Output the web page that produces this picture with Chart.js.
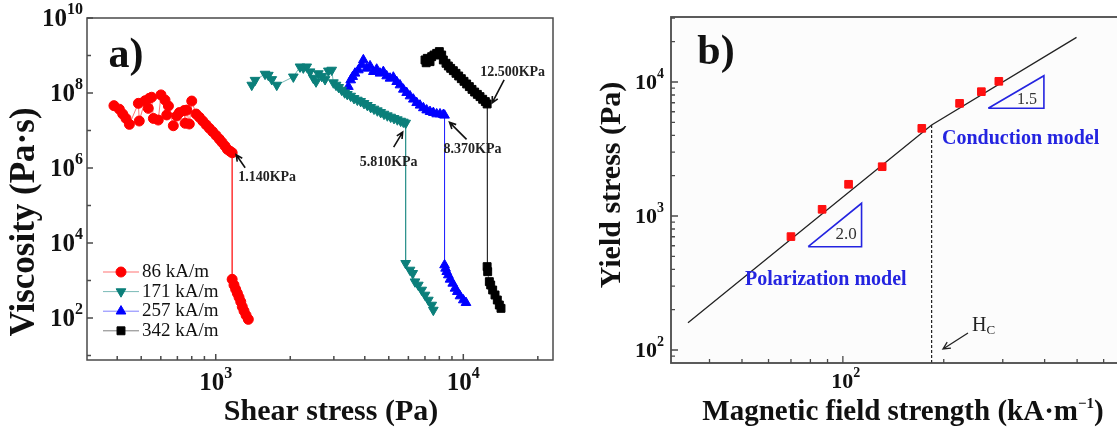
<!DOCTYPE html>
<html>
<head>
<meta charset="utf-8">
<script src="https://cdn.jsdelivr.net/npm/chart.js@4.4.1/dist/chart.umd.min.js"></script>
<style>
  html, body { margin: 0; padding: 0; background: #fff; overflow: hidden; }
  body { width: 1117px; height: 430px; position: relative; }
  canvas { position: absolute; top: 0; }
  #chartA { left: 0; }
  #chartB { left: 560px; }
</style>
</head>
<body>
<canvas id="chartA" width="560" height="430"></canvas>
<canvas id="chartB" width="640" height="430"></canvas>
<script>
'use strict';

// ---- panel a) viscosity vs shear stress ----
const fieldLabels = ['86 kA/m', '171 kA/m', '257 kA/m', '342 kA/m'];
const dropLabels = ['1.140KPa', '5.810KPa', '8.370KPa', '12.500KPa'];

const stress86 = [388, 408, 421, 434, 448, 487, 491, 518, 534, 539, 551, 560, 586, 601, 624, 634, 644, 674, 696, 713,
  745, 752, 764, 782, 800, 833, 859, 886, 914, 942, 972, 1003, 1034, 1060, 1090, 1114, 1142, 1165,
  1165, 1185, 1204, 1223, 1242, 1262, 1280, 1301, 1326, 1354];
const visc86 = [4.6e7, 3.7e7, 2.75e7, 2.1e7, 1.46e7, 5.3e7, 1.79e7, 6.2e7, 3.9e7, 7.2e7, 7.7e7, 2.1e7, 1.9e7, 8.9e7, 6.5e7, 2.6e7, 4.5e7, 1.34e7, 2.44e7, 3.0e7,
  3.4e7, 1.56e7, 3.5e7, 1.49e7, 6.1e7, 2.75e7, 2.25e7, 1.79e7, 1.43e7, 1.15e7, 9.3e6, 7.4e6, 5.9e6, 4.85e6, 3.86e6, 3.15e6, 2.8e6, 2.55e6,
  1075, 759, 582, 456, 356, 272, 200, 154, 118, 92];

const stress171 = [1398, 1441, 1582, 1631, 1684, 1764, 2058, 2190, 2258, 2331, 2404, 2479, 2542, 2597, 2680, 2764, 2850, 2941,
  2987, 3061, 3138, 3227, 3318, 3401, 3509, 3619, 3733, 3850, 3972, 4097, 4226, 4358, 4496, 4638, 4783, 4934, 5090, 5250, 5415, 5585, 5726, 5850,
  5850, 6091, 6247, 6381, 6581, 6792, 7004, 7224, 7455, 7566];
const visc171 = [1.63e8, 2.2e8, 3.2e8, 3.0e8, 2.3e8, 1.63e8, 2.7e8, 5.0e8, 4.7e8, 5.0e8, 3.7e8, 2.5e8, 2.0e8, 3.3e8, 2.8e8, 2.3e8, 3.9e8, 4.1e8,
  1.89e8, 1.63e8, 1.42e8, 1.2e8, 1.02e8, 9.2e7, 8.3e7, 7.2e7, 6.5e7, 6.0e7, 5.3e7, 4.7e7, 4.15e7, 3.75e7, 3.38e7, 3.05e7, 2.75e7, 2.49e7, 2.29e7, 2.11e7, 1.95e7, 1.79e7, 1.69e7, 1.58e7,
  2875, 1905, 1556, 929, 759, 558, 411, 302, 222, 163];

const stress257 = [3434, 3509, 3575, 3652, 3768, 3886, 3947, 4071, 4200, 4332, 4468, 4609, 4753, 4903, 5058, 5216, 5381, 5549, 5725, 5904,
  6091, 6283, 6480, 6685, 6896, 7113, 7337, 7568, 7807, 8053, 8306, 8400,
  8400, 8480, 8570, 8700, 8838, 9063, 9258, 9458, 9699, 10000, 10253];
const visc257 = [1.48e8, 2.22e8, 2.73e8, 3.35e8, 4.1e8, 5.58e8, 7.6e8, 4.55e8, 5.25e8, 3.7e8, 4.28e8, 3.35e8, 3.7e8, 2.84e8, 2.46e8, 2.62e8, 2.0e8, 1.63e8, 1.25e8, 1.02e8,
  8.3e7, 6.8e7, 5.5e7, 4.7e7, 4.0e7, 3.5e7, 3.18e7, 2.99e7, 2.75e7, 2.75e7, 2.64e7, 2.54e7,
  2590, 2110, 1720, 1402, 1074, 840, 618, 504, 386, 302, 256];

const stress342 = [7004, 7080, 7154, 7337, 7451, 7613, 7807, 8002, 8178, 8306, 8515, 8701, 8892, 9114, 9343, 9578, 9818, 10064, 10318, 10577,
  10842, 11114, 11394, 11679, 11973, 12274, 12480,
  12480, 12545, 12740, 12900, 13140, 13430, 13720, 13980, 14200];
const visc342 = [7.6e8, 6.4e8, 8.4e8, 6.85e8, 9.3e8, 1.03e9, 1.14e9, 1.27e9, 1.03e9, 7.6e8, 6.2e8, 5.25e8, 4.55e8, 3.94e8, 3.35e8, 2.84e8, 2.41e8, 2.05e8, 1.74e8, 1.48e8,
  1.25e8, 1.06e8, 9.2e7, 8.0e7, 6.8e7, 5.9e7, 5.1e7,
  2340, 1720, 931, 759, 558, 411, 302, 222, 181];

const stressMajor = [1e3, 1e4];
const stressMinor = [400, 500, 600, 700, 800, 900, 2000, 3000, 4000, 5000, 6000, 7000, 8000, 9000, 20000];
const viscMajor = [1e2, 1e4, 1e6, 1e8, 1e10];
const viscMinor = [1e1, 1e3, 1e5, 1e7, 1e9];

// ---- panel b) yield stress vs field ----
const fieldH = [70, 86.7, 104, 131, 172, 223, 259, 292];
const yieldStress = [702, 1122, 1725, 2333, 4510, 6930, 8470, 10120];
const fitH = [34.5, 184, 498];
const fitStress = [160, 4780, 21550];
const criticalH = [184, 184];
const criticalStress = [4780, 80];
const tri20H = [78.8, 113.7, 113.7, 78.8];
const tri20Stress = [590, 1244, 590, 590];
const tri15H = [271.5, 398, 398, 271.5];
const tri15Stress = [6365, 11140, 6365, 6365];

const fieldMajor = [100];
const fieldMinor = [40, 50, 60, 70, 80, 90, 200, 300, 400, 500, 600];
const yieldMajor = [1e2, 1e3, 1e4];
const yieldMinor = [90, 200, 300, 400, 500, 600, 700, 800, 900, 2000, 3000, 4000, 5000, 6000, 7000, 8000, 9000, 20000, 30000];

const SERIF = '"Liberation Serif", "Times New Roman", Times, serif';
const pts = (xs, ys) => xs.map((x, i) => ({ x, y: ys[i] }));

function textRun(ctx, parts, x, y, align) {
  let total = 0;
  parts.forEach(p => { ctx.font = p.font; p.w = ctx.measureText(p.text).width; total += p.w; });
  let x0 = align === 'right' ? x - total : align === 'left' ? x : x - total / 2;
  ctx.textAlign = 'left';
  ctx.textBaseline = 'middle';
  parts.forEach(p => { ctx.font = p.font; ctx.fillText(p.text, x0, y + (p.dy || 0)); x0 += p.w; });
}

function powLabel(ctx, exp, x, y, align, size) {
  textRun(ctx, [
    { text: '10', font: `bold ${size}px ${SERIF}` },
    { text: exp, font: `bold ${Math.round(size * 0.62)}px ${SERIF}`, dy: -size * 0.4 },
  ], x, y, align);
}

function ticks(chart, axis, values, len) {
  const { ctx, chartArea: a, scales } = chart;
  ctx.beginPath();
  values.forEach(v => {
    if (axis === 'x') {
      const p = scales.x.getPixelForValue(v);
      if (p < a.left || p > a.right) return;
      ctx.moveTo(p, a.bottom); ctx.lineTo(p, a.bottom - len);
    } else {
      const p = scales.y.getPixelForValue(v);
      if (p < a.top || p > a.bottom) return;
      ctx.moveTo(a.left, p); ctx.lineTo(a.left + len, p);
    }
  });
  ctx.stroke();
}

function arrow(ctx, x1, y1, x2, y2, head) {
  const ang = Math.atan2(y2 - y1, x2 - x1);
  ctx.beginPath();
  ctx.moveTo(x1, y1); ctx.lineTo(x2, y2);
  ctx.moveTo(x2 - head * Math.cos(ang - 0.45), y2 - head * Math.sin(ang - 0.45));
  ctx.lineTo(x2, y2);
  ctx.lineTo(x2 - head * Math.cos(ang + 0.45), y2 - head * Math.sin(ang + 0.45));
  ctx.stroke();
}

function logScale(min, max) {
  return { type: 'logarithmic', min, max, display: false };
}

// ---------- chart a ----------
const seriesA = [
  { xs: stress86, ys: visc86, color: '#ff0000', line: 'rgba(255,0,0,0.55)', style: 'circle', rot: 0, r: 5 },
  { xs: stress171, ys: visc171, color: '#0b7f7a', line: 'rgba(11,127,122,0.55)', style: 'triangle', rot: 180, r: 5.6 },
  { xs: stress257, ys: visc257, color: '#0000ff', line: 'rgba(0,0,255,0.5)', style: 'triangle', rot: 0, r: 5.6 },
  { xs: stress342, ys: visc342, color: '#000000', line: 'rgba(0,0,0,0.5)', style: 'rect', rot: 0, r: 5.6 },
];

// anchor index = last point before the drop; offsets in px for arrow tail/tip and text
const dropNotes = [
  { idx: 37, tip: [4, 2], tail: [13, 15], text: [6, 25] },
  { idx: 41, tip: [-3, 9], tail: [-12, 24], text: [-46, 39] },
  { idx: 31, tip: [5, 7], tail: [22, 24], text: [-1, 34] },
  { idx: 26, tip: [5, -1], tail: [17, -24], text: [-7, -32] },
];

const panelA = {
  id: 'panelA',
  afterDatasetsDraw(chart) {
    const { ctx, chartArea: a, scales } = chart;
    ctx.save();
    ctx.strokeStyle = '#4a4a4a';
    ctx.lineWidth = 1.5;
    ctx.strokeRect(a.left, a.top, a.right - a.left, a.bottom - a.top);
    ticks(chart, 'x', stressMajor, 6);
    ticks(chart, 'x', stressMinor, 4);
    ticks(chart, 'y', viscMajor, 6);
    ticks(chart, 'y', viscMinor, 4);

    ctx.fillStyle = '#111';
    stressMajor.forEach(v => powLabel(ctx, String(Math.log10(v)), scales.x.getPixelForValue(v), 384, 'center', 25));
    viscMajor.forEach(v => powLabel(ctx, String(Math.log10(v)), 83, scales.y.getPixelForValue(v) + 2, 'right', 25));

    ctx.font = `bold 30px ${SERIF}`;
    ctx.textAlign = 'center'; ctx.textBaseline = 'middle';
    ctx.fillText('Shear stress (Pa)', 331, 412);
    ctx.save();
    ctx.translate(25, 222); ctx.rotate(-Math.PI / 2);
    ctx.font = `bold 35px ${SERIF}`;
    ctx.fillText('Viscosity (Pa\u00b7s)', 0, 0);
    ctx.restore();

    ctx.font = `bold 42px ${SERIF}`;
    ctx.fillText('a)', 126, 56);

    // drop annotations
    ctx.lineWidth = 1.6;
    ctx.strokeStyle = '#111';
    dropNotes.forEach((n, i) => {
      const s = seriesA[i];
      const px = scales.x.getPixelForValue(s.xs[n.idx]);
      const py = scales.y.getPixelForValue(s.ys[n.idx]);
      arrow(ctx, px + n.tail[0], py + n.tail[1], px + n.tip[0], py + n.tip[1], 7);
      ctx.font = `bold 14px ${SERIF}`;
      ctx.fillStyle = '#222';
      ctx.textAlign = 'left';
      ctx.fillText(dropLabels[i], px + n.text[0], py + n.text[1]);
    });

    // legend
    seriesA.forEach((s, i) => {
      const y = 272 + i * 19.6;
      ctx.strokeStyle = s.line; ctx.lineWidth = 1;
      ctx.beginPath(); ctx.moveTo(103, y); ctx.lineTo(139, y); ctx.stroke();
      ctx.fillStyle = s.color; ctx.strokeStyle = s.color;
      Chart.helpers.drawPoint(ctx, { pointStyle: s.style, radius: s.r, rotation: s.rot, borderWidth: 1 }, 121, y);
      ctx.fillStyle = '#111';
      ctx.font = `19px ${SERIF}`;
      ctx.textAlign = 'left'; ctx.textBaseline = 'middle';
      ctx.fillText(fieldLabels[i], 142, y);
    });
    ctx.restore();
  },
};

new Chart(document.getElementById('chartA'), {
  type: 'line',
  data: {
    datasets: seriesA.map((s, i) => ({
      label: fieldLabels[i],
      data: pts(s.xs, s.ys),
      borderColor: s.line,
      borderWidth: 1,
      pointStyle: s.style,
      pointRotation: s.rot,
      pointRadius: s.r,
      pointBackgroundColor: s.color,
      pointBorderColor: s.color,
      pointBorderWidth: 1,
      tension: 0,
      fill: false,
    })),
  },
  options: {
    responsive: false,
    animation: false,
    layout: { padding: { left: 87, right: 7, top: 18, bottom: 70 } },
    scales: { x: logScale(302, 23030), y: logScale(7.59, 1e10) },
    plugins: { legend: { display: false }, tooltip: { enabled: false } },
  },
  plugins: [panelA],
});

// ---------- chart b ----------
const BLUE = '#2424e0';

const panelB = {
  id: 'panelB',
  beforeDatasetsDraw(chart) {
    const { ctx, chartArea: a } = chart;
    ctx.save();
    ctx.fillStyle = '#fcfcfc';
    ctx.fillRect(a.left, a.top, a.right - a.left, a.bottom - a.top);
    ctx.restore();
  },
  afterDatasetsDraw(chart) {
    const { ctx, chartArea: a, scales } = chart;
    ctx.save();
    ctx.strokeStyle = '#4a4a4a';
    ctx.lineWidth = 1.8;
    ctx.strokeRect(a.left, a.top, a.right - a.left, a.bottom - a.top);
    ctx.lineWidth = 1.3;
    ticks(chart, 'x', fieldMajor, 7);
    ticks(chart, 'x', fieldMinor, 4);
    ticks(chart, 'y', yieldMajor, 7);
    ticks(chart, 'y', yieldMinor, 4);

    ctx.fillStyle = '#111';
    fieldMajor.forEach(v => powLabel(ctx, String(Math.log10(v)), scales.x.getPixelForValue(v) + 3, 382, 'center', 22));
    yieldMajor.forEach(v => powLabel(ctx, String(Math.log10(v)), 104, scales.y.getPixelForValue(v) + 1, 'right', 22));

    textRun(ctx, [
      { text: 'Magnetic field strength (kA\u00b7m', font: `bold 29px ${SERIF}` },
      { text: '\u22121', font: `bold 15px ${SERIF}`, dy: -9 },
      { text: ')', font: `bold 29px ${SERIF}` },
    ], 343, 413, 'center');

    ctx.save();
    ctx.translate(52, 185); ctx.rotate(-Math.PI / 2);
    ctx.font = `bold 30px ${SERIF}`;
    ctx.textAlign = 'center'; ctx.textBaseline = 'middle';
    ctx.fillText('Yield stress (Pa)', 0, 0);
    ctx.restore();

    ctx.font = `bold 42px ${SERIF}`;
    ctx.textAlign = 'center'; ctx.textBaseline = 'middle';
    ctx.fillText('b)', 156, 53);

    ctx.fillStyle = BLUE;
    ctx.font = `bold 20px ${SERIF}`;
    ctx.textAlign = 'left';
    ctx.fillText('Conduction model', 382, 139);
    ctx.fillText('Polarization model', 185, 280);

    ctx.fillStyle = '#333';
    ctx.textAlign = 'center';
    ctx.font = `17px ${SERIF}`;
    ctx.fillText('2.0', 286, 235);
    ctx.font = `16px ${SERIF}`;
    ctx.fillText('1.5', 467, 100);

    ctx.fillStyle = '#222';
    textRun(ctx, [
      { text: 'H', font: `20px ${SERIF}` },
      { text: 'C', font: `13px ${SERIF}`, dy: 5 },
    ], 412, 326, 'left');
    ctx.strokeStyle = '#222';
    ctx.lineWidth = 1.3;
    arrow(ctx, 408, 333, 383, 349, 8);
    ctx.restore();
  },
};

new Chart(document.getElementById('chartB'), {
  type: 'line',
  data: {
    datasets: [
      {
        data: pts(fieldH, yieldStress),
        showLine: false,
        pointStyle: 'rect',
        pointRadius: 5.4,
        pointBackgroundColor: '#ff1010',
        pointBorderColor: '#ff1010',
        pointBorderWidth: 1,
      },
      { data: pts(fitH, fitStress), borderColor: '#222', borderWidth: 1.3, pointRadius: 0, tension: 0 },
      { data: pts(criticalH, criticalStress), borderColor: '#222', borderWidth: 1.2, borderDash: [3, 2], pointRadius: 0 },
      { data: pts(tri20H, tri20Stress), borderColor: BLUE, borderWidth: 1.6, pointRadius: 0, tension: 0 },
      { data: pts(tri15H, tri15Stress), borderColor: BLUE, borderWidth: 1.6, pointRadius: 0, tension: 0 },
    ],
  },
  options: {
    responsive: false,
    animation: false,
    layout: { padding: { left: 111, right: 74, top: 17, bottom: 67 } },
    scales: { x: logScale(30.7, 699.6), y: logScale(80, 30560) },
    plugins: { legend: { display: false }, tooltip: { enabled: false } },
  },
  plugins: [panelB],
});
</script>
</body>
</html>
